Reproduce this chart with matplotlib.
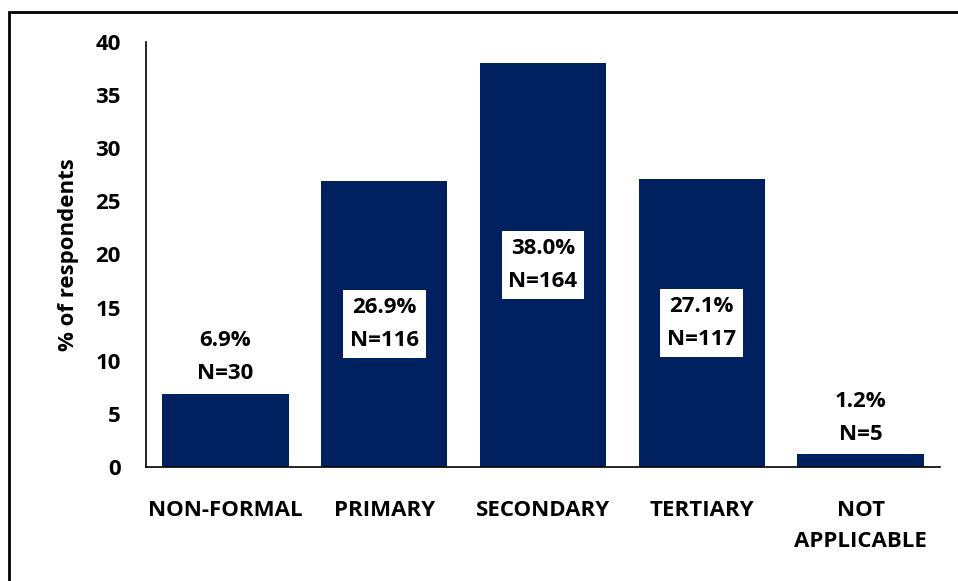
import matplotlib.pyplot as plt
from matplotlib.patches import Rectangle

# education level of respondents
categories = ['NON-FORMAL', 'PRIMARY', 'SECONDARY', 'TERTIARY', 'NOT\nAPPLICABLE']
percent = [6.9, 26.9, 38.0, 27.1, 1.2]
counts = [30, 116, 164, 117, 5]
inside = [False, True, True, True, False]

plt.rcParams['font.family'] = ['Open Sans', 'DejaVu Sans']
plt.rcParams['font.weight'] = 'bold'
fs = 16

fig = plt.figure(figsize=(9.58, 5.81), dpi=100)
ax = fig.add_axes([146/958, 114/581, 794/958, 425/581])

x = range(len(categories))
ax.bar(x, percent, width=0.795, color='#002060')

for i, (p, n) in enumerate(zip(percent, counts)):
    txt = f'{p:.1f}%\nN={n}'
    if inside[i]:
        ax.text(i, p / 2, txt, ha='center', va='center', fontsize=fs,
                fontweight='bold', linespacing=1.75,
                bbox=dict(facecolor='white', edgecolor='none', pad=5))
    else:
        ax.text(i, p + 0.9, txt, ha='center', va='bottom', fontsize=fs,
                fontweight='bold', linespacing=1.75)

ax.set_xlim(-0.5, 4.5)
ax.set_ylim(0, 40)
ax.set_yticks(range(0, 41, 5))
ax.set_xticks(list(x))
ax.set_xticklabels(categories, fontsize=fs, fontweight='bold', linespacing=1.6)
ax.tick_params(axis='y', length=0, pad=18, labelsize=fs)
ax.tick_params(axis='x', length=0, pad=24)
for lab in ax.get_yticklabels():
    lab.set_fontweight('bold')
ax.spines['top'].set_visible(False)
ax.spines['right'].set_visible(False)
ax.spines['left'].set_linewidth(1.2)
ax.spines['bottom'].set_linewidth(1.2)
ax.set_ylabel('% of respondents', fontsize=fs, fontweight='bold', labelpad=12)

# frame around the chart area (only left and top edges fall inside the image)
fig.patches.append(Rectangle((9/958, -0.2), 1.2, 1.2 - 12/581,
                             transform=fig.transFigure, fill=False,
                             edgecolor='black', linewidth=2))

fig.savefig('out.png', dpi=100)
